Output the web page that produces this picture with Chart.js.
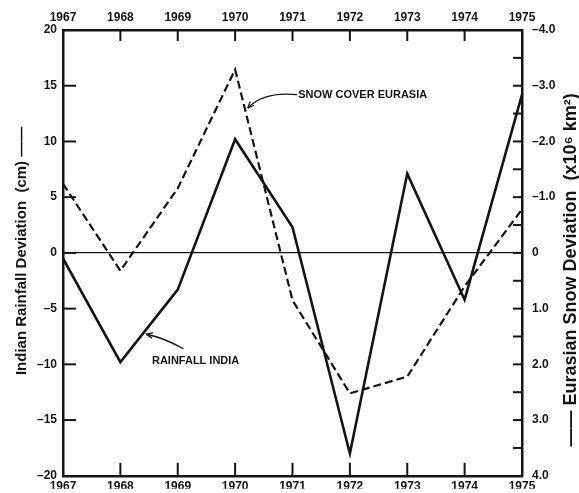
<!DOCTYPE html>
<html>
<head>
<meta charset="utf-8">
<script src="https://cdn.jsdelivr.net/npm/chart.js@4.4.1/dist/chart.umd.min.js"></script>
<style>
html, body { margin: 0; padding: 0; background: #fff; }
canvas { display: block; }
</style>
</head>
<body>
<canvas id="chart" width="579" height="493"></canvas>
<script>
// Years on the top and bottom axes
const years = [1967, 1968, 1969, 1970, 1971, 1972, 1973, 1974, 1975];
// Indian rainfall deviation (cm) - solid line, left axis
const rainfallIndia = [-0.5, -9.8, -3.3, 10.2, 2.3, -18.0, 7.1, -4.2, 14.2];
// Eurasian snow deviation (x10^6 km^2) - dashed line, right axis (inverted)
const snowEurasia = [-1.24, 0.32, -1.16, -3.29, 0.85, 2.52, 2.22, 0.6, -0.78];

// Tick values
const leftTicks = [-20, -15, -10, -5, 0, 5, 10, 15, 20];
const rightTicks = [-4, -3, -2, -1, 0, 1, 2, 3, 4];

const INK = '#141414';
const FONT = '"Liberation Sans", "DejaVu Sans", Arial, sans-serif';
const tickFont = { family: FONT, size: 12, weight: 'bold' };

function line(ctx, x1, y1, x2, y2) {
    ctx.beginPath();
    ctx.moveTo(x1, y1);
    ctx.lineTo(x2, y2);
    ctx.stroke();
}

// Curved leader with a small open arrowhead at its end
function leader(ctx, x0, y0, cx, cy, x1, y1) {
    ctx.beginPath();
    ctx.moveTo(x0, y0);
    ctx.quadraticCurveTo(cx, cy, x1, y1);
    ctx.stroke();
    const ang = Math.atan2(y1 - cy, x1 - cx);
    const len = 7;
    line(ctx, x1, y1, x1 - len * Math.cos(ang - 0.4), y1 - len * Math.sin(ang - 0.4));
    line(ctx, x1, y1, x1 - len * Math.cos(ang + 0.4), y1 - len * Math.sin(ang + 0.4));
}

const decor = {
    id: 'decor',
    beforeDraw(chart) {
        const ctx = chart.ctx;
        ctx.save();
        ctx.fillStyle = '#fff';
        ctx.fillRect(0, 0, chart.width, chart.height);
        ctx.restore();
    },
    afterDraw(chart) {
        const { ctx, chartArea: a, scales } = chart;
        const sx = scales.x, sy = scales.y, sy2 = scales.y2;
        ctx.save();
        ctx.strokeStyle = INK;
        ctx.fillStyle = INK;
        ctx.lineWidth = 2;

        // inward ticks
        years.slice(1, -1).forEach(yr => {
            const px = sx.getPixelForValue(yr);
            line(ctx, px, a.top, px, a.top + 11);
            line(ctx, px, a.bottom, px, a.bottom - 13);
        });
        leftTicks.slice(1, -1).forEach(v => {
            const py = sy.getPixelForValue(v);
            line(ctx, a.left, py, a.left + 13, py);
        });
        for (let i = 1; i < rightTicks.length * 2 - 2; i++) {
            const py = sy2.getPixelForValue(rightTicks[0] + i * 0.5);
            line(ctx, a.right, py, a.right - 9, py);
        }

        // annotations
        ctx.font = 'bold 11px ' + FONT;
        ctx.textBaseline = 'middle';
        ctx.textAlign = 'left';
        ctx.lineWidth = 1.3;
        ctx.fillText('SNOW COVER EURASIA', sx.getPixelForValue(1971.1), sy.getPixelForValue(14.2));
        leader(ctx,
            sx.getPixelForValue(1971.08), sy.getPixelForValue(14.2),
            sx.getPixelForValue(1970.5), sy.getPixelForValue(14.5),
            sx.getPixelForValue(1970.22), sy.getPixelForValue(13.0));
        ctx.fillText('RAINFALL INDIA', sx.getPixelForValue(1968.55), sy.getPixelForValue(-9.7));
        leader(ctx,
            sx.getPixelForValue(1969.1), sy.getPixelForValue(-8.6),
            sx.getPixelForValue(1968.75), sy.getPixelForValue(-7.6),
            sx.getPixelForValue(1968.45), sy.getPixelForValue(-7.3));

        // axis titles (rotated)
        const midY = (a.top + a.bottom) / 2;
        ctx.textAlign = 'center';
        ctx.textBaseline = 'alphabetic';
        ctx.save();
        ctx.translate(26, midY - 2);
        ctx.rotate(-Math.PI / 2);
        ctx.font = 'bold 15px ' + FONT;
        ctx.fillText('Indian Rainfall Deviation  (cm) \u2014\u2014', 0, 0);
        ctx.restore();

        ctx.save();
        ctx.translate(576, midY + 17);
        ctx.rotate(-Math.PI / 2);
        ctx.font = 'bold 18px ' + FONT;
        ctx.fillText('\u2014\u2014 Eurasian Snow Deviation  (x10\u2076 km\u00b2)', 0, 0);
        ctx.restore();

        ctx.restore();
    }
};

const border = { display: true, color: INK, width: 2.5 };
const noGrid = { display: false, drawTicks: false };

new Chart(document.getElementById('chart'), {
    type: 'line',
    data: {
        datasets: [
            {
                label: 'Rainfall India',
                data: years.map((yr, i) => ({ x: yr, y: rainfallIndia[i] })),
                xAxisID: 'x',
                yAxisID: 'y',
                borderColor: INK,
                borderWidth: 2.6,
                pointRadius: 0,
                tension: 0,
                fill: false
            },
            {
                label: 'Snow Cover Eurasia',
                data: years.map((yr, i) => ({ x: yr, y: snowEurasia[i] })),
                xAxisID: 'x',
                yAxisID: 'y2',
                borderColor: INK,
                borderWidth: 2.2,
                borderDash: [8, 4],
                pointRadius: 0,
                tension: 0,
                fill: false
            }
        ]
    },
    options: {
        responsive: false,
        animation: false,
        devicePixelRatio: 1,
        layout: { padding: 0 },
        plugins: { legend: { display: false }, tooltip: { enabled: false } },
        scales: {
            x: {
                type: 'linear',
                position: 'bottom',
                min: 1967,
                max: 1975,
                afterBuildTicks: s => { s.ticks = years.map(v => ({ value: v })); },
                afterFit: s => { s.height = 13; },
                grid: noGrid,
                border: border,
                ticks: { font: tickFont, color: INK, padding: 4, autoSkip: false, maxRotation: 0, callback: v => String(v) }
            },
            x2: {
                type: 'linear',
                position: 'top',
                min: 1967,
                max: 1975,
                afterBuildTicks: s => { s.ticks = years.map(v => ({ value: v })); },
                afterFit: s => { s.height = 30; },
                grid: noGrid,
                border: border,
                ticks: { font: tickFont, color: INK, padding: 5, autoSkip: false, maxRotation: 0, callback: v => String(v) }
            },
            y: {
                type: 'linear',
                position: 'left',
                min: -20,
                max: 20,
                afterBuildTicks: s => { s.ticks = leftTicks.map(v => ({ value: v })); },
                afterFit: s => { s.width = 63; },
                grid: {
                    drawOnChartArea: true,
                    drawTicks: false,
                    lineWidth: 1.2,
                    color: c => (c.tick && c.tick.value === 0 ? INK : 'rgba(0,0,0,0)')
                },
                border: border,
                ticks: {
                    font: tickFont, color: INK, padding: 6,
                    callback: v => (v < 0 ? '\u2013' : '') + Math.abs(v)
                }
            },
            y2: {
                type: 'linear',
                position: 'right',
                min: -4,
                max: 4,
                reverse: true,
                afterBuildTicks: s => { s.ticks = rightTicks.map(v => ({ value: v })); },
                afterFit: s => { s.width = 57; },
                grid: noGrid,
                border: border,
                ticks: {
                    font: tickFont, color: INK, padding: 10,
                    callback: v => (v === 0 ? '0' : (v < 0 ? '\u2013' : '') + Math.abs(v).toFixed(1))
                }
            }
        }
    },
    plugins: [decor]
});
</script>
</body>
</html>
